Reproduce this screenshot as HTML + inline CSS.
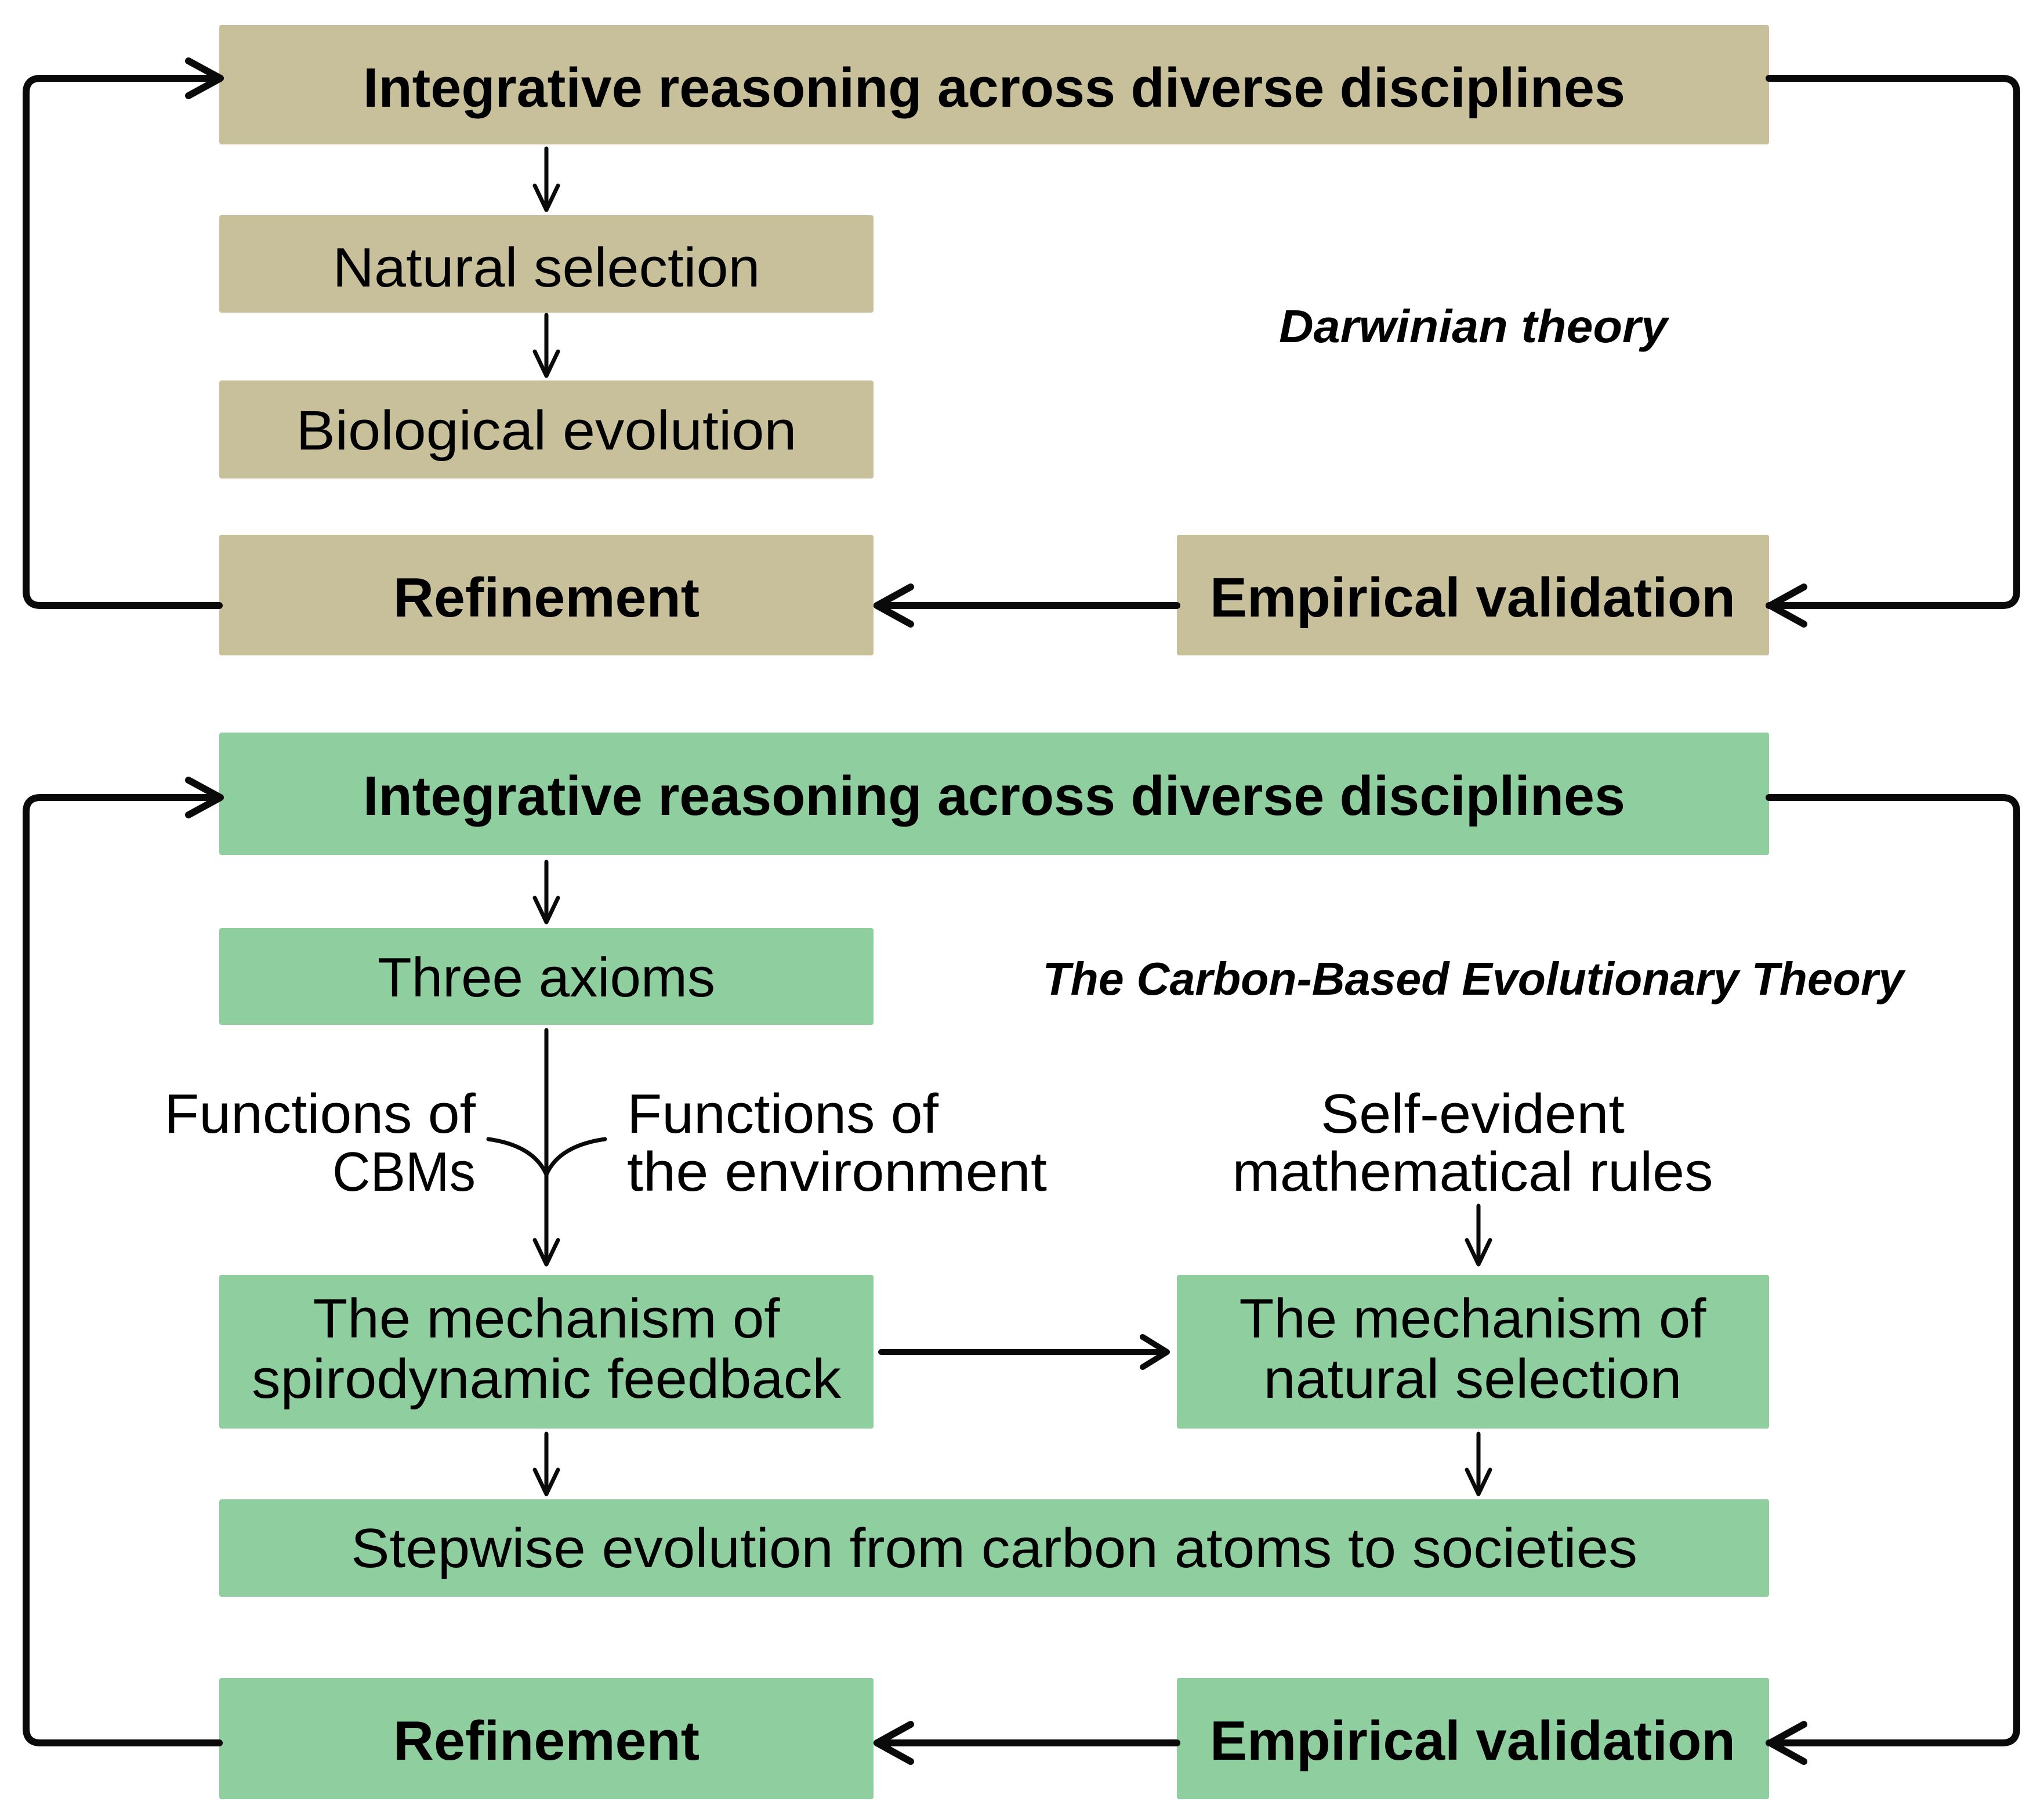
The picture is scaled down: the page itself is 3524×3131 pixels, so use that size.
<!DOCTYPE html>
<html><head><meta charset="utf-8"><style>html,body{margin:0;padding:0;background:#fff}svg{display:block}text{font-family:"Liberation Sans","DejaVu Sans",sans-serif;fill:#000}</style></head><body>
<svg width="3524" height="3131" viewBox="0 0 3524 3131" xmlns="http://www.w3.org/2000/svg">
<defs>
<marker id="ah" viewBox="0 0 20 20" refX="18" refY="10" markerWidth="20" markerHeight="20" markerUnits="userSpaceOnUse" orient="auto"></marker>
</defs>
<g fill="#c8c09a">
<rect x="378" y="43" width="2672" height="206" rx="4"/>
<rect x="378" y="371" width="1128" height="168" rx="4"/>
<rect x="378" y="656" width="1128" height="169" rx="4"/>
<rect x="378" y="922" width="1128" height="208" rx="4"/>
<rect x="2029" y="922" width="1021" height="208" rx="4"/>
</g>
<g fill="#8fce9e">
<rect x="378" y="1263" width="2672" height="211" rx="4"/>
<rect x="378" y="1600" width="1128" height="167" rx="4"/>
<rect x="378" y="2198" width="1128" height="265" rx="4"/>
<rect x="2029" y="2198" width="1021" height="265" rx="4"/>
<rect x="378" y="2585" width="2672" height="168" rx="4"/>
<rect x="378" y="2893" width="1128" height="209" rx="4"/>
<rect x="2029" y="2893" width="1021" height="209" rx="4"/>
</g>
<g fill="none" stroke="#0a0a0a" stroke-width="12" stroke-linecap="round" stroke-linejoin="round">
<!-- top loop -->
<path d="M378 1044 H70 Q45 1044 45 1019 V160 Q45 135 70 135 H378"/>
<path d="M325 105 L380 135 L325 165"/>
<path d="M3050 135 H3452 Q3477 135 3477 160 V1019 Q3477 1044 3452 1044 H3050"/>
<path d="M3110 1012 L3052 1044 L3110 1076"/>
<path d="M2029 1044 H1512"/>
<path d="M1570 1012 L1512 1044 L1570 1076"/>
<!-- bottom loop -->
<path d="M378 3005 H70 Q45 3005 45 2980 V1400 Q45 1375 70 1375 H378"/>
<path d="M325 1345 L380 1375 L325 1405"/>
<path d="M3050 1375 H3452 Q3477 1375 3477 1400 V2980 Q3477 3005 3452 3005 H3050"/>
<path d="M3110 2973 L3052 3005 L3110 3037"/>
<path d="M2029 3005 H1512"/>
<path d="M1570 2973 L1512 3005 L1570 3037"/>
</g>
<g fill="none" stroke="#0a0a0a" stroke-width="7" stroke-linecap="round" stroke-linejoin="round">
<path d="M942 256 V362 M922 320 L942 362 L962 320"/>
<path d="M942 543 V648 M922 606 L942 648 L962 606"/>
<path d="M942 1486 V1590 M922 1548 L942 1590 L962 1548"/>
<path d="M942 1776 V2180 M922 2138 L942 2180 L962 2138"/>
<path d="M842 1964 Q920 1975 942 2025 Q964 1975 1043 1964"/>
<path d="M2549 2079 V2180 M2529 2138 L2549 2180 L2569 2138"/>
<path d="M942 2472 V2576 M922 2534 L942 2576 L962 2534"/>
<path d="M2549 2472 V2576 M2529 2534 L2549 2576 L2569 2534"/>
</g>
<path d="M1519 2331 H2012 M1970 2305 L2012 2331 L1970 2357" fill="none" stroke="#0a0a0a" stroke-width="10" stroke-linecap="round" stroke-linejoin="round"/>
<g font-size="96" text-anchor="middle">
<text x="1714" y="184" font-weight="bold" textLength="2176" lengthAdjust="spacingAndGlyphs">Integrative reasoning across diverse disciplines</text>
<text x="942" y="494" textLength="737" lengthAdjust="spacingAndGlyphs">Natural selection</text>
<text x="942" y="775" textLength="863" lengthAdjust="spacingAndGlyphs">Biological evolution</text>
<text x="942" y="1063" font-weight="bold" textLength="528" lengthAdjust="spacingAndGlyphs">Refinement</text>
<text x="2539" y="1063" font-weight="bold" textLength="906" lengthAdjust="spacingAndGlyphs">Empirical validation</text>
<text x="2540" y="590" font-size="80" font-weight="bold" font-style="italic" textLength="670" lengthAdjust="spacingAndGlyphs">Darwinian theory</text>
<text x="1714" y="1405" font-weight="bold" textLength="2176" lengthAdjust="spacingAndGlyphs">Integrative reasoning across diverse disciplines</text>
<text x="942" y="1718" textLength="582" lengthAdjust="spacingAndGlyphs">Three axioms</text>
<text x="2540" y="1715" font-size="80" font-weight="bold" font-style="italic" textLength="1485" lengthAdjust="spacingAndGlyphs">The Carbon-Based Evolutionary Theory</text>
<text x="820" y="1953" text-anchor="end" textLength="537" lengthAdjust="spacingAndGlyphs">Functions of</text>
<text x="820" y="2053" text-anchor="end" textLength="247" lengthAdjust="spacingAndGlyphs">CBMs</text>
<text x="1081" y="1953" text-anchor="start" textLength="537" lengthAdjust="spacingAndGlyphs">Functions of</text>
<text x="1081" y="2053" text-anchor="start" textLength="724" lengthAdjust="spacingAndGlyphs">the environment</text>
<text x="2539" y="1953" textLength="524" lengthAdjust="spacingAndGlyphs">Self-evident</text>
<text x="2539" y="2053" textLength="829" lengthAdjust="spacingAndGlyphs">mathematical rules</text>
<text x="942" y="2306" textLength="805" lengthAdjust="spacingAndGlyphs">The mechanism of</text>
<text x="942" y="2410" textLength="1016" lengthAdjust="spacingAndGlyphs">spirodynamic feedback</text>
<text x="2539" y="2306" textLength="805" lengthAdjust="spacingAndGlyphs">The mechanism of</text>
<text x="2539" y="2410" textLength="721" lengthAdjust="spacingAndGlyphs">natural selection</text>
<text x="1714" y="2702" textLength="2218" lengthAdjust="spacingAndGlyphs">Stepwise evolution from carbon atoms to societies</text>
<text x="942" y="3034" font-weight="bold" textLength="528" lengthAdjust="spacingAndGlyphs">Refinement</text>
<text x="2539" y="3034" font-weight="bold" textLength="906" lengthAdjust="spacingAndGlyphs">Empirical validation</text>
</g>
</svg>
</body></html>
